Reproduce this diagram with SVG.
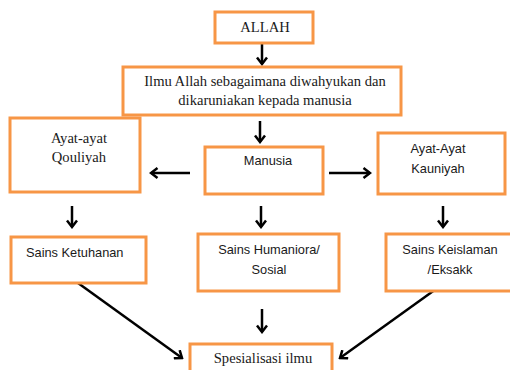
<svg xmlns="http://www.w3.org/2000/svg" width="510" height="370" viewBox="0 0 510 370">
<defs>
<style>
.box{fill:#fff;stroke:#F79646;stroke-width:3}
.serif{font-family:"Liberation Serif",serif;font-size:14.6px;fill:#1a1a1a;text-anchor:middle}
.sans{font-family:"Liberation Sans",sans-serif;font-size:12.8px;fill:#1a1a1a;text-anchor:middle}
.conn{stroke:#000;stroke-width:2.5;fill:none;marker-end:url(#ah)}
</style>
<marker id="ah" viewBox="0 0 10 12" refX="8" refY="6" markerWidth="10" markerHeight="12" markerUnits="userSpaceOnUse" orient="auto">
<path d="M1.5,1 L8,6 L1.5,11" fill="none" stroke="#000" stroke-width="2.5"/>
</marker>
</defs>
<rect width="510" height="370" fill="#fff"/>
<g id="connectors">
<line class="conn" x1="262" y1="44" x2="262" y2="64"/>
<line class="conn" x1="260" y1="121" x2="260" y2="142"/>
<line class="conn" x1="190" y1="173" x2="151" y2="173"/>
<line class="conn" x1="329" y1="173" x2="370" y2="173"/>
<line class="conn" x1="72" y1="206" x2="72" y2="227"/>
<line class="conn" x1="261" y1="206" x2="261" y2="227"/>
<line class="conn" x1="443" y1="206" x2="443" y2="227"/>
<line class="conn" x1="262" y1="309" x2="262" y2="332"/>
<line class="conn" x1="78" y1="283" x2="182" y2="358"/>
<line class="conn" x1="443" y1="284" x2="340" y2="358"/>
</g>
<g id="allah">
<rect class="box" x="215" y="12" width="98" height="31"/>
<text class="serif" x="265" y="32">ALLAH</text>
</g>
<g id="ilmu">
<rect class="box" x="123" y="67" width="278" height="48"/>
<text class="serif" x="265" y="86">Ilmu Allah sebagaimana diwahyukan dan</text>
<text class="serif" x="265" y="105">dikaruniakan kepada manusia</text>
</g>
<g id="qouliyah">
<rect class="box" x="10" y="118" width="130" height="74"/>
<text class="serif" x="79" y="143">Ayat-ayat</text>
<text class="serif" x="79" y="162">Qouliyah</text>
</g>
<g id="manusia">
<rect class="box" x="205" y="147" width="118" height="47"/>
<text class="sans" x="268" y="165">Manusia</text>
</g>
<g id="kauniyah">
<rect class="box" x="378" y="133" width="127" height="61"/>
<text class="sans" x="438" y="153">Ayat-Ayat</text>
<text class="sans" x="438" y="173">Kauniyah</text>
</g>
<g id="ketuhanan">
<rect class="box" x="11" y="237" width="135" height="46"/>
<text class="sans" x="26" y="257" style="text-anchor:start">Sains Ketuhanan</text>
</g>
<g id="humaniora">
<rect class="box" x="198" y="234" width="141" height="57"/>
<text class="sans" x="269" y="254">Sains Humaniora/</text>
<text class="sans" x="269" y="274">Sosial</text>
</g>
<g id="keislaman">
<rect class="box" x="386" y="234" width="130" height="57"/>
<text class="sans" x="450" y="254">Sains Keislaman</text>
<text class="sans" x="450" y="274">/Eksakk</text>
</g>
<g id="spesialisasi">
<rect class="box" x="190" y="344" width="142" height="40"/>
<text class="serif" x="263" y="363">Spesialisasi ilmu</text>
</g>
</svg>
